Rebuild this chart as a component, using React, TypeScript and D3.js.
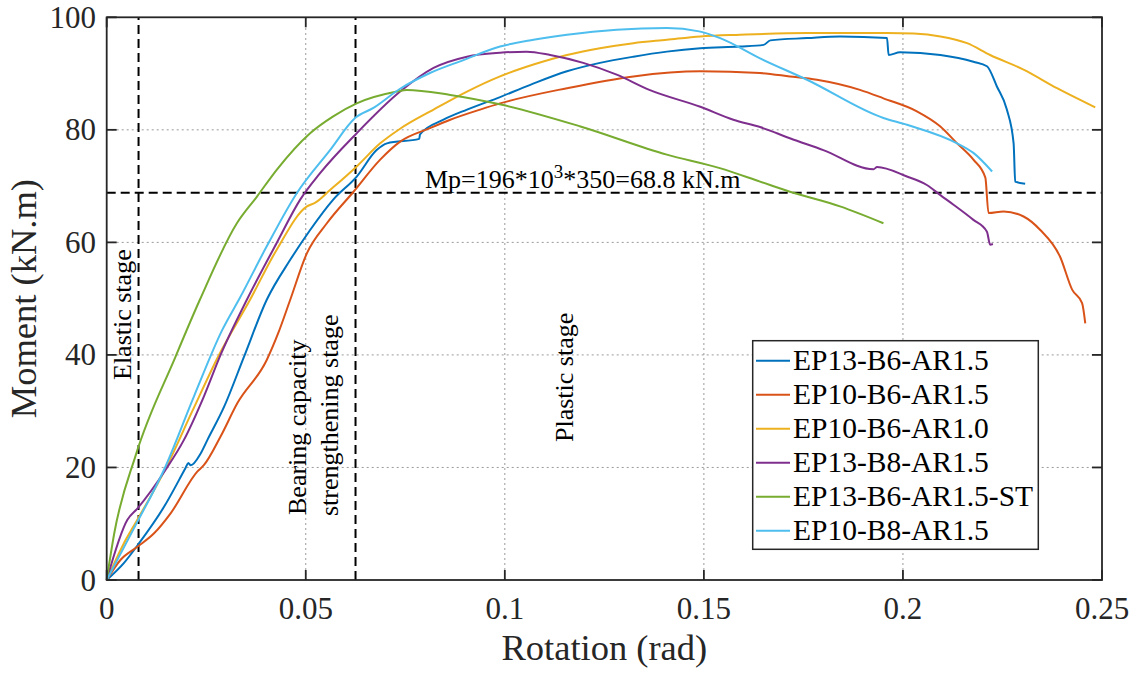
import React from "react";
import * as d3 from "d3";

const seriesNames = [
  "EP13-B6-AR1.5",
  "EP10-B6-AR1.5",
  "EP10-B6-AR1.0",
  "EP13-B8-AR1.5",
  "EP13-B6-AR1.5-ST",
  "EP10-B8-AR1.5",
];
const seriesColors = ["#0072BD", "#D95319", "#EDB120", "#7E2F8E", "#77AC30", "#4DBEEE"];

// [rotation (rad), moment (kN.m)]
const ep13B6: [number, number][] = [
  [0, 0], [0.0043, 3.0], [0.0081, 6.5], [0.0144, 13.0], [0.0198, 19.9], [0.0205, 20.8], [0.0211, 20.4],
  [0.0236, 22.5], [0.0253, 24.9], [0.0295, 30.8], [0.0345, 39.7], [0.0402, 49.8], [0.0461, 56.9],
  [0.0511, 62.2], [0.0569, 67.6], [0.0628, 71.7], [0.0678, 76.4], [0.0704, 77.6], [0.0785, 78.4],
  [0.0787, 79.2], [0.0846, 81.8], [0.0905, 83.6], [0.098, 85.6], [0.1064, 88.0], [0.1156, 90.4],
  [0.1239, 91.9], [0.1323, 93.0], [0.1407, 93.9], [0.1491, 94.5], [0.1591, 94.8], [0.165, 95.1],
  [0.1667, 95.9], [0.1759, 96.3], [0.1842, 96.6], [0.196, 96.3], [0.1964, 93.3], [0.1993, 93.8],
  [0.2094, 93.3], [0.2177, 92.1], [0.2211, 91.3], [0.2236, 87.7], [0.2261, 83.6], [0.2278, 77.6],
  [0.2282, 70.8], [0.2307, 70.4],
];
const ep10B6: [number, number][] = [
  [0, 0], [0.0035, 3.6], [0.0077, 5.9], [0.0119, 8.3], [0.0161, 11.9], [0.0228, 19.3], [0.0244, 20.4],
  [0.0286, 25.5], [0.0328, 31.4], [0.0402, 39.1], [0.0431, 43.9], [0.0461, 49.8], [0.0503, 58.1],
  [0.0553, 63.4], [0.062, 69.0], [0.0687, 74.7], [0.0737, 77.9], [0.0812, 80.3], [0.0863, 81.8],
  [0.0938, 83.6], [0.0988, 84.7], [0.1156, 87.4], [0.1323, 89.5], [0.1491, 90.4], [0.1641, 90.1],
  [0.1716, 89.5], [0.1784, 88.9], [0.1892, 87.1], [0.1951, 85.6], [0.2035, 83.3], [0.2094, 80.6],
  [0.2136, 77.6], [0.2177, 74.7], [0.2207, 71.5], [0.2215, 65.2], [0.2253, 65.5], [0.2303, 64.6],
  [0.2345, 62.2], [0.2395, 57.4], [0.2425, 51.6], [0.245, 49.2], [0.2458, 45.6],
];
const ep10B6AR10: [number, number][] = [
  [0, 0], [0.0043, 6.5], [0.0077, 10.7], [0.0148, 19.8], [0.0215, 30.0], [0.0282, 40.0], [0.036, 49.8],
  [0.0427, 58.7], [0.0503, 66.4], [0.0523, 67.0], [0.0561, 69.3], [0.0628, 73.5], [0.0687, 77.6],
  [0.0737, 80.2], [0.0821, 83.6], [0.0905, 86.8], [0.0988, 89.5], [0.1072, 91.6], [0.1156, 93.3],
  [0.1239, 94.5], [0.1323, 95.4], [0.1407, 96.0], [0.1491, 96.6], [0.1591, 96.9], [0.1759, 97.2],
  [0.196, 97.2], [0.2027, 97.1], [0.2094, 96.6], [0.2161, 95.4], [0.2219, 93.3], [0.2303, 90.7],
  [0.2387, 87.4], [0.2483, 84.0],
];
const ep13B8: [number, number][] = [
  [0, 0], [0.0052, 10.7], [0.0077, 12.7], [0.0148, 19.6], [0.0194, 24.9], [0.0244, 32.6], [0.0286, 40.0],
  [0.0352, 49.8], [0.0427, 59.9], [0.0486, 67.6], [0.0536, 72.3], [0.0628, 79.4], [0.0737, 86.8],
  [0.0821, 91.0], [0.0905, 93.0], [0.0988, 93.7], [0.1055, 93.9], [0.1114, 93.3], [0.1197, 91.9],
  [0.1281, 89.8], [0.1363, 87.1], [0.1491, 84.1], [0.1574, 81.8], [0.1641, 80.5], [0.1716, 78.5],
  [0.18, 76.4], [0.1926, 73.0], [0.1935, 73.4], [0.201, 71.7], [0.206, 70.2], [0.2094, 68.4],
  [0.2127, 66.7], [0.2177, 64.0], [0.2211, 61.9], [0.2219, 59.6], [0.2226, 59.7],
];
const ep13B6ST: [number, number][] = [
  [0, 0], [0.0019, 8.3], [0.0073, 22.2], [0.0173, 39.7], [0.0234, 49.8],
  [0.0327, 63.4], [0.0377, 68.1], [0.0427, 72.9], [0.0511, 79.4], [0.0569, 82.4], [0.0628, 84.7],
  [0.0729, 86.8], [0.0754, 87.1], [0.0863, 86.2], [0.0996, 84.4], [0.119, 80.6], [0.1407, 75.6],
  [0.154, 73.2], [0.1641, 70.8], [0.1716, 69.0], [0.1842, 66.4], [0.1951, 63.4],
];
const ep10B8: [number, number][] = [
  [0, 0], [0.0073, 9.8], [0.0144, 19.6], [0.0219, 32.6], [0.029, 44.4], [0.0335, 50.2], [0.0402, 59.3],
  [0.0477, 68.7], [0.0561, 76.4], [0.0624, 82.1], [0.067, 83.9], [0.0737, 87.3], [0.0812, 90.1],
  [0.0896, 92.4], [0.0988, 94.8], [0.1072, 96.0], [0.1156, 96.9], [0.1281, 97.8], [0.1407, 98.1],
  [0.1488, 97.5], [0.1541, 96.3], [0.1641, 92.7], [0.1759, 88.9], [0.1951, 82.1], [0.201, 80.9],
  [0.2136, 77.6], [0.2177, 75.9], [0.2224, 72.6],
];
const seriesData = [ep13B6, ep10B6, ep10B6AR10, ep13B8, ep13B6ST, ep10B8];

const xTicks = [0, 0.05, 0.1, 0.15, 0.2, 0.25];
const xTickLabels = ["0", "0.05", "0.1", "0.15", "0.2", "0.25"];
const yTicks = [0, 20, 40, 60, 80, 100];
const stageLines = [0.008, 0.0625];
const mpValue = 68.8;

const FONT = "'Liberation Serif', 'Times New Roman', serif";
const INK = "#262626";

export default function App() {
  const W = 1141, H = 675;
  const x0 = 106.7, x1 = 1102, y0 = 580, y1 = 17.3;
  const x = d3.scaleLinear().domain([0, 0.25]).range([x0, x1]);
  const y = d3.scaleLinear().domain([0, 100]).range([y0, y1]);
  const line = d3
    .line<[number, number]>()
    .x((d) => x(d[0]))
    .y((d) => y(d[1]))
    .curve(d3.curveMonotoneX);
  const tickLen = 10;

  return (
    <svg width={W} height={H} style={{ position: "absolute", left: 0, top: 0, background: "#fff" }}
      fontFamily={FONT}>
      <rect x={0} y={0} width={W} height={H} fill="#fff" />
      {/* grid */}
      {xTicks.slice(1, -1).map((t) => (
        <line key={"gx" + t} x1={x(t)} x2={x(t)} y1={y0} y2={y1} stroke="#9a9a9a" strokeWidth={1} strokeDasharray="2,3" />
      ))}
      {yTicks.slice(1, -1).map((t) => (
        <line key={"gy" + t} x1={x0} x2={x1} y1={y(t)} y2={y(t)} stroke="#9a9a9a" strokeWidth={1} strokeDasharray="2,3" />
      ))}
      {/* stage lines */}
      {stageLines.map((s) => (
        <line key={"s" + s} x1={x(s)} x2={x(s)} y1={y0} y2={y1} stroke="#000" strokeWidth={2} strokeDasharray="9,5" />
      ))}
      <line x1={x0} x2={x1} y1={y(mpValue)} y2={y(mpValue)} stroke="#000" strokeWidth={2} strokeDasharray="9,5" />
      {/* curves */}
      {seriesData.map((d, i) => (
        <path key={"c" + i} d={line(d) || ""} fill="none" stroke={seriesColors[i]} strokeWidth={2} strokeLinejoin="round" />
      ))}
      {/* axes box */}
      <rect x={x0} y={y1} width={x1 - x0} height={y0 - y1} fill="none" stroke={INK} strokeWidth={1.8} />
      {xTicks.map((t) => (
        <g key={"xt" + t}>
          <line x1={x(t)} x2={x(t)} y1={y0} y2={y0 - tickLen} stroke={INK} strokeWidth={1.8} />
          <line x1={x(t)} x2={x(t)} y1={y1} y2={y1 + tickLen} stroke={INK} strokeWidth={1.8} />
        </g>
      ))}
      {yTicks.map((t) => (
        <g key={"yt" + t}>
          <line x1={x0} x2={x0 + tickLen} y1={y(t)} y2={y(t)} stroke={INK} strokeWidth={1.8} />
          <line x1={x1} x2={x1 - tickLen} y1={y(t)} y2={y(t)} stroke={INK} strokeWidth={1.8} />
        </g>
      ))}
      {xTicks.map((t, i) => (
        <text key={"xl" + t} x={x(t)} y={619} textAnchor="middle" fontSize={31} fill={INK}>{xTickLabels[i]}</text>
      ))}
      {yTicks.map((t) => (
        <text key={"yl" + t} x={96} y={y(t) + 10.5} textAnchor="end" fontSize={31} fill={INK}>{t}</text>
      ))}
      <text x={(x0 + x1) / 2} y={660} textAnchor="middle" fontSize={36.5} fill={INK}>Rotation (rad)</text>
      <text transform={`translate(36,${(y0 + y1) / 2}) rotate(-90)`} textAnchor="middle" fontSize={36.5} fill={INK}>Moment (kN.m)</text>
      {/* annotations */}
      <text x={425} y={188} fontSize={26} fill="#000">
        Mp=196*10<tspan dy={-10} fontSize={19}>3</tspan><tspan dy={10}>*350=68.8 kN.m</tspan>
      </text>
      <text transform="translate(131,380) rotate(-90)" fontSize={26} fill="#000">Elastic stage</text>
      <text transform="translate(306,515) rotate(-90)" fontSize={26} fill="#000">Bearing capacity</text>
      <text transform="translate(338,516) rotate(-90)" fontSize={26} fill="#000">strengthening stage</text>
      <text transform="translate(573,442) rotate(-90)" fontSize={26} fill="#000">Plastic stage</text>
      {/* legend */}
      <rect x={752.7} y={340.7} width={1038.3 - 752.7} height={549.3 - 340.7} fill="#fff" stroke={INK} strokeWidth={1.5} />
      {seriesNames.map((n, i) => (
        <g key={"lg" + i}>
          <line x1={756} x2={790} y1={360.7 + i * 34} y2={360.7 + i * 34} stroke={seriesColors[i]} strokeWidth={2} />
          <text x={793} y={369.5 + i * 34} fontSize={29.5} fill="#000">{n}</text>
        </g>
      ))}
    </svg>
  );
}
